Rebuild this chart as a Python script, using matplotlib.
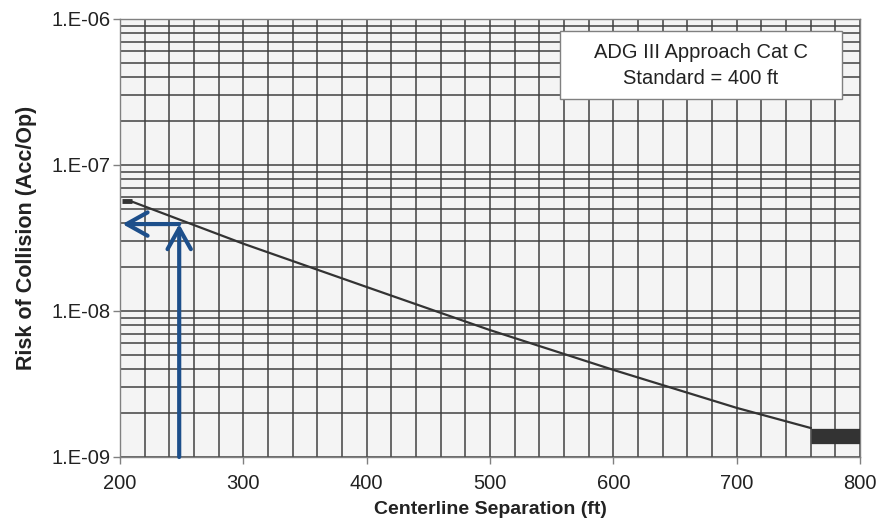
import numpy as np
import matplotlib
matplotlib.use("Agg")
import matplotlib.pyplot as plt
from matplotlib.ticker import LogLocator, MultipleLocator, FuncFormatter, NullFormatter
from matplotlib.patches import Rectangle

plt.rcParams['font.family'] = ['Liberation Sans', 'DejaVu Sans']

# curve (ft, risk)
sep_ft = [210, 300, 400, 500, 600, 700, 760]
risk = [5.6e-8, 2.89e-8, 1.46e-8, 7.4e-9, 3.95e-9, 2.17e-9, 1.58e-9]

# thick end pieces
start_seg_x = [202, 210]
start_seg_y = [5.7e-8, 5.7e-8]
end_seg_x = [760, 800]
end_seg_y = [1.40e-9, 1.40e-9]

# blue read-off arrows
arrow_x = 248
arrow_y = 3.94e-8
arrow_left_x = 202

legend_lines = ["ADG III Approach Cat C", "Standard = 400 ft"]

fig = plt.figure(figsize=(8.81, 5.21), dpi=100)
ax = fig.add_axes([120/881, 1-457/521, 740/881, 438/521])
ax.set_facecolor('#f4f4f4')

ax.set_yscale('log')
ax.set_xlim(200, 800)
ax.set_ylim(1e-9, 1e-6)

# ticks and grid
ax.xaxis.set_major_locator(MultipleLocator(100))
ax.xaxis.set_minor_locator(MultipleLocator(20))
ax.yaxis.set_major_locator(LogLocator(base=10, numticks=10))
ax.yaxis.set_minor_locator(LogLocator(base=10, subs=np.arange(2, 10), numticks=20))
ax.yaxis.set_major_formatter(FuncFormatter(lambda v, p: "1.E-%02d" % round(-np.log10(v))))
ax.yaxis.set_minor_formatter(NullFormatter())

ax.grid(True, which='both', color='#404040', lw=1.1)
ax.set_axisbelow(True)
ax.tick_params(which='major', direction='out', length=5, width=1, color='#808080',
               labelsize=14.5, labelcolor='#222222')
ax.tick_params(axis='x', which='major', pad=7)
ax.tick_params(axis='y', which='major', pad=2)
ax.tick_params(which='minor', length=0)
for s in ax.spines.values():
    s.set_color('#808080')
    s.set_linewidth(1)

# data
ax.plot(sep_ft, risk, color='#333333', lw=1.6, zorder=3)
ax.plot(start_seg_x, start_seg_y, color='#333333', lw=3.5, solid_capstyle='butt', zorder=3)
ax.plot(end_seg_x, end_seg_y, color='#333333', lw=11, solid_capstyle='butt', zorder=3)

# arrows
blue = '#1d4f8b'
aprops = dict(arrowstyle='->,head_length=0.75,head_width=0.42', color=blue, lw=3,
              mutation_scale=20, shrinkA=0, shrinkB=0)
ax.annotate('', xy=(arrow_x, arrow_y), xytext=(arrow_x, 1e-9), arrowprops=aprops, zorder=4)
ax.annotate('', xy=(arrow_left_x, arrow_y), xytext=(arrow_x, arrow_y), arrowprops=aprops, zorder=4)

# legend-like box
ax.add_patch(Rectangle((0.5946, 0.8174), 0.3811, 0.1552, transform=ax.transAxes,
                       facecolor='white', edgecolor='#808080', lw=1, zorder=5))
ax.text(0.785, 0.893, "\n".join(legend_lines), transform=ax.transAxes, ha='center',
        va='center', fontsize=14.5, color='#222222', linespacing=1.45, zorder=6)

ax.set_xlabel("Centerline Separation (ft)", fontsize=14, fontweight='bold',
              color='#222222', labelpad=6)
ax.set_ylabel("Risk of Collision (Acc/Op)", fontsize=15.5, fontweight='bold',
              color='#222222', labelpad=10)

fig.savefig("out.png", dpi=100)
